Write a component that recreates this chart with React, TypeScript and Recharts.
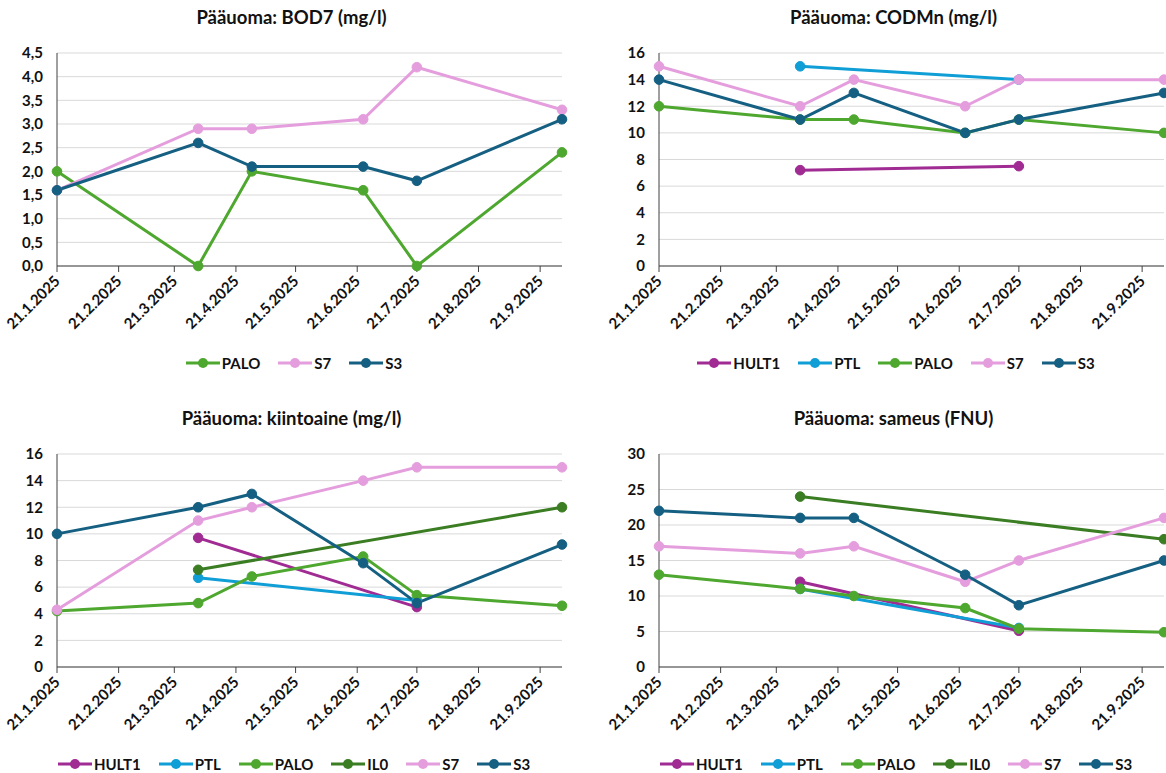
import { CartesianGrid, Legend, Line, LineChart, XAxis, YAxis } from "recharts";

const FONT = "Lato, 'Open Sans', sans-serif";
const TXT = "#111111";
const GRID = "#d9d9d9";
const AXIS = "#404040";

const COLORS: Record<string, string> = {
  HULT1: "#A02B93",
  PTL: "#0F9ED5",
  PALO: "#4EA72E",
  IL0: "#3B7D23",
  S7: "#E59EDD",
  S3: "#156082",
};

// sampling dates shared by all four panels
const sampleDates = ["21.1.2025", "2.4.2025", "29.4.2025", "24.6.2025", "21.7.2025", "2.10.2025"];
const tickDates = [
  "21.1.2025", "21.2.2025", "21.3.2025", "21.4.2025", "21.5.2025",
  "21.6.2025", "21.7.2025", "21.8.2025", "21.9.2025",
];

// BOD7 (mg/l)
const bodPALO = [2.0, 0.0, 2.0, 1.6, 0.0, 2.4];
const bodS7 = [1.6, 2.9, 2.9, 3.1, 4.2, 3.3];
const bodS3 = [1.6, 2.6, 2.1, 2.1, 1.8, 3.1];
const bodTicks = [0, 0.5, 1, 1.5, 2, 2.5, 3, 3.5, 4, 4.5];

// CODMn (mg/l)
const codHULT1 = [null, 7.2, null, null, 7.5, null];
const codPTL = [null, 15, null, null, 14, null];
const codPALO = [12, 11, 11, 10, 11, 10];
const codS7 = [15, 12, 14, 12, 14, 14];
const codS3 = [14, 11, 13, 10, 11, 13];
const codTicks = [0, 2, 4, 6, 8, 10, 12, 14, 16];

// kiintoaine (mg/l)
const kiiHULT1 = [null, 9.7, null, null, 4.5, null];
const kiiPTL = [null, 6.7, null, null, 5.0, null];
const kiiPALO = [4.2, 4.8, 6.8, 8.3, 5.4, 4.6];
const kiiIL0 = [null, 7.3, null, null, null, 12];
const kiiS7 = [4.3, 11, 12, 14, 15, 15];
const kiiS3 = [10, 12, 13, 7.8, 4.8, 9.2];
const kiiTicks = [0, 2, 4, 6, 8, 10, 12, 14, 16];

// sameus (FNU)
const samHULT1 = [null, 12, null, null, 5.1, null];
const samPTL = [null, 11, null, null, 5.5, null];
const samPALO = [13, 11, 10, 8.3, 5.4, 4.9];
const samIL0 = [null, 24, null, null, null, 18];
const samS7 = [17, 16, 17, 12, 15, 21];
const samS3 = [22, 21, 21, 13, 8.7, 15];
const samTicks = [0, 5, 10, 15, 20, 25, 30];

type Series = { name: string; values: (number | null)[] };

const toDay = (s: string) => {
  const [d, m, y] = s.split(".").map(Number);
  return Date.UTC(y, m - 1, d) / 86400000;
};
const tickDays = tickDates.map(toDay);
const dayLabel = new Map(tickDates.map((s) => [toDay(s), s]));

const DateTick = ({ x, y, payload }: any) => {
  const ax = x + 4;
  const ay = y + 8;
  return (
    <text x={ax} y={ay} transform={`rotate(-45 ${ax} ${ay})`} textAnchor="end"
          fill={TXT} fontSize={15} fontWeight={700} fontFamily={FONT}>
      {dayLabel.get(payload.value) ?? ""}
    </text>
  );
};

// legend drawn from the panel's own series list so Excel's order is kept
const LegendRow = ({ series }: { series: Series[] }) => (
  <div style={{
    display: "flex", justifyContent: "center", gap: 18, height: 20, alignItems: "center", paddingLeft: 26,
  }}>
    {series.map((se) => (
      <span key={se.name} style={{ display: "inline-flex", alignItems: "center" }}>
        <svg width={34} height={12}>
          <line x1={0} y1={6} x2={34} y2={6} stroke={COLORS[se.name]} strokeWidth={3} />
          <circle cx={17} cy={6} r={5} fill={COLORS[se.name]} />
        </svg>
        <span style={{ marginLeft: 2, font: `700 15px ${FONT}`, color: TXT }}>{se.name}</span>
      </span>
    ))}
  </div>
);

function Panel({ title, series, yTicks, comma, left, top }: {
  title: string; series: Series[]; yTicks: number[]; comma?: boolean; left: number; top: number;
}) {
  const data = sampleDates.map((s, i) => {
    const row: Record<string, number | null> = { t: toDay(s) };
    series.forEach((se) => { row[se.name] = se.values[i]; });
    return row;
  });
  const yMax = yTicks[yTicks.length - 1];
  return (
    <div style={{ position: "absolute", left, top, width: 583, height: 390 }}>
      <div style={{
        position: "absolute", top: 5, left: 0, width: 583, textAlign: "center",
        font: `700 18.5px ${FONT}`, lineHeight: "24px", color: TXT,
      }}>{title}</div>
      <LineChart width={583} height={385} data={data}
                 margin={{ top: 53, right: 21, bottom: 12, left: 0 }}>
        <CartesianGrid stroke={GRID} vertical={false} />
        <XAxis dataKey="t" type="number" domain={["dataMin", "dataMax"]} ticks={tickDays}
               interval={0} height={87} tick={<DateTick />} stroke={AXIS} tickSize={6} tickMargin={2} />
        <YAxis type="number" domain={[0, yMax]} ticks={yTicks} width={57} interval={0}
               axisLine={{ stroke: AXIS }} tickLine={false} tickMargin={8}
               tick={{ fill: TXT, fontSize: 15, fontWeight: 700, fontFamily: FONT }}
               tickFormatter={(v: number) => (comma ? v.toFixed(1).replace(".", ",") : String(v))} />
        <Legend verticalAlign="bottom" height={20} content={() => <LegendRow series={series} />} />
        {series.map((se) => (
          <Line key={se.name} dataKey={se.name} name={se.name} stroke={COLORS[se.name]} strokeWidth={3}
                dot={{ r: 4.8, fill: COLORS[se.name], stroke: COLORS[se.name], strokeWidth: 1 }}
                activeDot={false} connectNulls isAnimationActive={false} />
        ))}
      </LineChart>
    </div>
  );
}

export default function App() {
  return (
    <div style={{ position: "fixed", inset: 0, overflow: "hidden", background: "#fff" }}>
      <Panel title="Pääuoma: BOD7 (mg/l)" left={0} top={0} yTicks={bodTicks} comma
             series={[
               { name: "PALO", values: bodPALO },
               { name: "S7", values: bodS7 },
               { name: "S3", values: bodS3 },
             ]} />
      <Panel title="Pääuoma: CODMn (mg/l)" left={602} top={0} yTicks={codTicks}
             series={[
               { name: "HULT1", values: codHULT1 },
               { name: "PTL", values: codPTL },
               { name: "PALO", values: codPALO },
               { name: "S7", values: codS7 },
               { name: "S3", values: codS3 },
             ]} />
      <Panel title="Pääuoma: kiintoaine (mg/l)" left={0} top={401} yTicks={kiiTicks}
             series={[
               { name: "HULT1", values: kiiHULT1 },
               { name: "PTL", values: kiiPTL },
               { name: "PALO", values: kiiPALO },
               { name: "IL0", values: kiiIL0 },
               { name: "S7", values: kiiS7 },
               { name: "S3", values: kiiS3 },
             ]} />
      <Panel title="Pääuoma: sameus (FNU)" left={602} top={401} yTicks={samTicks}
             series={[
               { name: "HULT1", values: samHULT1 },
               { name: "PTL", values: samPTL },
               { name: "PALO", values: samPALO },
               { name: "IL0", values: samIL0 },
               { name: "S7", values: samS7 },
               { name: "S3", values: samS3 },
             ]} />
    </div>
  );
}
